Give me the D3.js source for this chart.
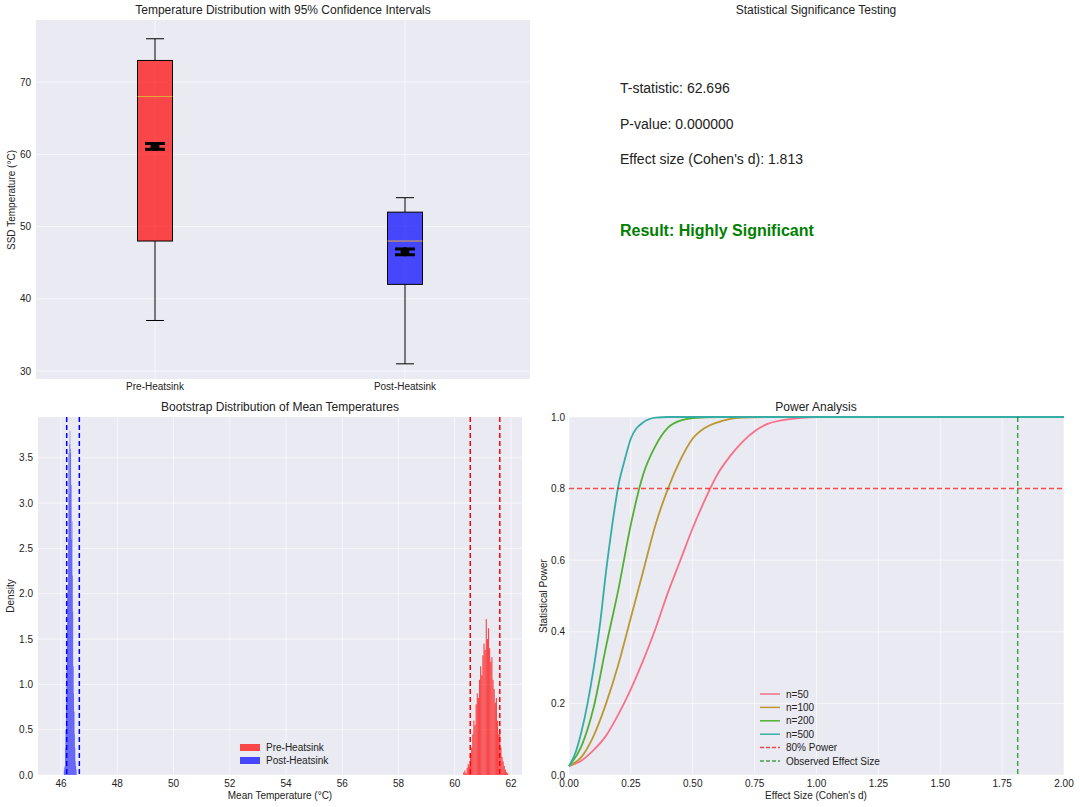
<!DOCTYPE html>
<html><head><meta charset="utf-8">
<script src="https://cdn.jsdelivr.net/npm/d3@7"></script>
<style>body{margin:0;background:#fff}text{font-family:"Liberation Sans",Arial,sans-serif}</style>
</head><body>
<script>
// box plot data
var groups=["Pre-Heatsink","Post-Heatsink"];
var boxColors=["#ff0000","#0000ff"];
var whiskLo=[37,31], q1=[48,42], medians=[68,48], q3=[73,52], whiskHi=[76,54];
var means=[61.1,46.5], ciLo=[60.7,46.1], ciHi=[61.5,46.9];
// stats text
var statLines=["T-statistic: 62.696","P-value: 0.000000","Effect size (Cohen's d): 1.813"];
// bootstrap histograms (bin starts, densities)
var preStart=60.30, preWidth=0.04;
var preDens=[0.03,0.05,0.02,0.08,0.12,0.1,0.22,0.3,0.45,0.6,0.55,0.78,0.9,0.85,1.05,1.2,1.1,1.32,1.45,1.38,1.72,1.5,1.62,1.4,1.25,1.3,1.05,0.95,0.8,0.85,0.6,0.45,0.5,0.3,0.2,0.15,0.1,0.06,0.03,0.02];
var postStart=46.10, postWidth=0.015;
var postDens=[0.05,0.08,0.1,0.3,0.5,0.8,1.15,1.6,2.0,2.1,2.6,3.55,3.1,3.65,3.8,3.55,3.6,3.2,2.6,2.8,2.2,1.8,1.2,0.9,0.7,0.45,0.3,0.15,0.1,0.06];
var preCI=[60.55,61.6], postCI=[46.2,46.65];
// power curves
var curveNames=["n=50","n=100","n=200","n=500"];
var curveColors=["#f77189","#bb9832","#50b131","#36ada4"];
var pwX=[
 [0,0.05,0.1,0.15,0.2,0.25,0.3,0.35,0.4,0.45,0.5,0.55,0.6,0.65,0.7,0.75,0.8,0.9,1.0,2.0],
 [0,0.05,0.1,0.15,0.2,0.25,0.3,0.35,0.4,0.45,0.5,0.55,0.6,0.7,0.8,2.0],
 [0,0.05,0.1,0.15,0.2,0.25,0.3,0.35,0.4,0.45,0.5,0.6,2.0],
 [0,0.025,0.05,0.075,0.1,0.125,0.15,0.175,0.2,0.225,0.25,0.3,0.35,0.4,2.0]];
var pwY=[
 [0.025,0.04,0.07,0.11,0.17,0.24,0.32,0.41,0.51,0.6,0.69,0.77,0.84,0.89,0.93,0.96,0.98,0.995,1,1],
 [0.025,0.05,0.11,0.2,0.31,0.44,0.57,0.7,0.8,0.88,0.94,0.97,0.985,0.998,1,1],
 [0.025,0.08,0.19,0.36,0.52,0.7,0.84,0.92,0.97,0.99,0.997,1,1],
 [0.025,0.06,0.12,0.2,0.3,0.42,0.57,0.7,0.81,0.88,0.94,0.985,0.998,1,1]];
var observedD=1.813, powerLine=0.8;

var svg=d3.select("body").append("svg").attr("width",1080).attr("height",807);

function panel(x0,x1,y0,y1){
  svg.append("rect").attr("x",x0).attr("y",y0).attr("width",x1-x0).attr("height",y1-y0).attr("fill","#eaeaf2");
  return svg.append("g");
}
function grid(g,xs,ys,x0,x1,y0,y1,xt,yt){
  xt.forEach(function(t){g.append("line").attr("x1",xs(t)).attr("x2",xs(t)).attr("y1",y0).attr("y2",y1).attr("stroke","#fff").attr("stroke-opacity",0.6);});
  yt.forEach(function(t){g.append("line").attr("y1",ys(t)).attr("y2",ys(t)).attr("x1",x0).attr("x2",x1).attr("stroke","#fff").attr("stroke-opacity",0.6);});
}
function label(x,y,t,opt){
  opt=opt||{};
  var e=svg.append("text").attr("x",x).attr("y",y).text(t).attr("font-size",opt.size||10).attr("fill",opt.fill||"#222").attr("text-anchor",opt.anchor||"middle");
  if(opt.rot) e.attr("transform","rotate(-90,"+x+","+y+")");
  if(opt.bold) e.attr("font-weight","bold");
  return e;
}
function ticksX(xs,vals,fmt,y){vals.forEach(function(t){label(xs(t),y,fmt(t),{size:10});});}
function ticksY(ys,vals,fmt,x){vals.forEach(function(t){label(x,ys(t)+3.5,fmt(t),{size:10,anchor:"end"});});}

// ---- panel 1: box plot
(function(){
  var x0=36,x1=530,y0=20,y1=379;
  var g=panel(x0,x1,y0,y1);
  var xs=d3.scalePoint().domain(groups).range([155,405]);
  var ys=d3.scaleLinear().domain([28.9,78.6]).range([y1,y0]);
  var yt=[30,40,50,60,70];
  grid(g,xs,ys,x0,x1,y0,y1,[],yt);
  groups.forEach(function(gr,i){g.append("line").attr("x1",xs(gr)).attr("x2",xs(gr)).attr("y1",y0).attr("y2",y1).attr("stroke","#fff").attr("stroke-opacity",0.6);});
  var bw=35;
  groups.forEach(function(gr,i){
    var cx=xs(gr);
    g.append("line").attr("x1",cx).attr("x2",cx).attr("y1",ys(whiskLo[i])).attr("y2",ys(q1[i])).attr("stroke","#000");
    g.append("line").attr("x1",cx).attr("x2",cx).attr("y1",ys(q3[i])).attr("y2",ys(whiskHi[i])).attr("stroke","#000");
    [whiskLo[i],whiskHi[i]].forEach(function(v){g.append("line").attr("x1",cx-9).attr("x2",cx+9).attr("y1",ys(v)).attr("y2",ys(v)).attr("stroke","#000");});
    g.append("rect").attr("x",cx-bw/2).attr("y",ys(q3[i])).attr("width",bw).attr("height",ys(q1[i])-ys(q3[i])).attr("fill",boxColors[i]).attr("fill-opacity",0.7).attr("stroke","#000");
    g.append("line").attr("x1",cx-bw/2).attr("x2",cx+bw/2).attr("y1",ys(medians[i])).attr("y2",ys(medians[i])).attr("stroke","#e5ae38");
    g.append("line").attr("x1",cx).attr("x2",cx).attr("y1",ys(ciLo[i])).attr("y2",ys(ciHi[i])).attr("stroke","#000").attr("stroke-width",3);
    [ciLo[i],ciHi[i]].forEach(function(v){g.append("line").attr("x1",cx-10).attr("x2",cx+10).attr("y1",ys(v)).attr("y2",ys(v)).attr("stroke","#000").attr("stroke-width",3);});
    g.append("circle").attr("cx",cx).attr("cy",ys(means[i])).attr("r",4.5).attr("fill","#000");
    label(cx,390,gr,{size:10});
  });
  ticksY(ys,yt,d3.format("d"),31);
  label(283,14,"Temperature Distribution with 95% Confidence Intervals",{size:12});
  label(15,200,"SSD Temperature (°C)",{size:10,rot:true});
})();

// ---- panel 2: stats text
statLines.forEach(function(t,i){label(620,93+i*35.5,t,{size:14,anchor:"start"});});
label(620,236,"Result: Highly Significant",{size:16,anchor:"start",bold:true,fill:"#008000"});
label(816,14,"Statistical Significance Testing",{size:12});

// ---- panel 3: bootstrap histograms
(function(){
  var x0=38,x1=522,y0=417,y1=775;
  var g=panel(x0,x1,y0,y1);
  var xs=d3.scaleLinear().domain([45.18,62.39]).range([x0,x1]);
  var ys=d3.scaleLinear().domain([0,3.95]).range([y1,y0]);
  var xt=d3.range(46,63,2), yt=d3.range(0,3.6,0.5);
  grid(g,xs,ys,x0,x1,y0,y1,xt,yt);
  function hist(start,w,dens,col){
    g.selectAll(null).data(dens).enter().append("rect")
      .attr("x",function(d,i){return xs(start+i*w);})
      .attr("width",function(d,i){return xs(start+(i+1)*w)-xs(start+i*w);})
      .attr("y",function(d){return ys(d);})
      .attr("height",function(d){return y1-ys(d);})
      .attr("fill",col).attr("fill-opacity",0.7);
  }
  hist(preStart,preWidth,preDens,"#ff0000");
  hist(postStart,postWidth,postDens,"#0000ff");
  preCI.forEach(function(v){g.append("line").attr("x1",xs(v)).attr("x2",xs(v)).attr("y1",y0).attr("y2",y1).attr("stroke","#ff0000").attr("stroke-width",1.5).attr("stroke-dasharray","5,3");});
  postCI.forEach(function(v){g.append("line").attr("x1",xs(v)).attr("x2",xs(v)).attr("y1",y0).attr("y2",y1).attr("stroke","#0000ff").attr("stroke-width",1.5).attr("stroke-dasharray","5,3");});
  ticksX(xs,xt,d3.format("d"),787);
  ticksY(ys,yt,function(v){return v.toFixed(1);},33);
  label(280,411,"Bootstrap Distribution of Mean Temperatures",{size:12});
  label(280,799,"Mean Temperature (°C)",{size:10});
  label(14,596,"Density",{size:10,rot:true});
  [["Pre-Heatsink","#ff0000"],["Post-Heatsink","#0000ff"]].forEach(function(l,i){
    svg.append("rect").attr("x",240).attr("y",744+i*13).attr("width",20).attr("height",7).attr("fill",l[1]).attr("fill-opacity",0.7);
    label(266,751+i*13,l[0],{size:10,anchor:"start"});
  });
})();

// ---- panel 4: power analysis
(function(){
  var x0=569,x1=1064,y0=417,y1=775;
  var g=panel(x0,x1,y0,y1);
  var xs=d3.scaleLinear().domain([0,2]).range([x0,x1]);
  var ys=d3.scaleLinear().domain([0,1]).range([y1,y0]);
  var xt=d3.range(0,2.01,0.25), yt=d3.range(0,1.01,0.2);
  grid(g,xs,ys,x0,x1,y0,y1,xt,yt);
  var line=d3.line().curve(d3.curveMonotoneX).x(function(d){return xs(d[0]);}).y(function(d){return ys(d[1]);});
  curveNames.forEach(function(n,i){
    g.append("path").datum(d3.zip(pwX[i],pwY[i])).attr("d",line).attr("fill","none").attr("stroke",curveColors[i]).attr("stroke-width",1.8);
  });
  g.append("line").attr("x1",x0).attr("x2",x1).attr("y1",ys(powerLine)).attr("y2",ys(powerLine)).attr("stroke","#ff0000").attr("stroke-opacity",0.7).attr("stroke-width",1.5).attr("stroke-dasharray","5,3");
  g.append("line").attr("x1",xs(observedD)).attr("x2",xs(observedD)).attr("y1",y0).attr("y2",y1).attr("stroke","#008000").attr("stroke-opacity",0.7).attr("stroke-width",1.5).attr("stroke-dasharray","5,3");
  ticksX(xs,xt,function(v){return v.toFixed(2);},787);
  ticksY(ys,yt,function(v){return v.toFixed(1);},565);
  label(816,411,"Power Analysis",{size:12});
  label(816,799,"Effect Size (Cohen's d)",{size:10});
  label(547,596,"Statistical Power",{size:10,rot:true});
  var items=curveNames.map(function(n,i){return [n,curveColors[i],false,1];});
  items.push(["80% Power","#ff0000",true,0.7],["Observed Effect Size","#008000",true,0.7]);
  items.forEach(function(it,i){
    var y=694+i*13.4;
    var l=svg.append("line").attr("x1",760).attr("x2",780).attr("y1",y).attr("y2",y).attr("stroke",it[1]).attr("stroke-width",1.5).attr("stroke-opacity",it[3]);
    if(it[2]) l.attr("stroke-dasharray","4,2");
    label(786,y+3.5,it[0],{size:10,anchor:"start"});
  });
})();
</script>
</body></html>
